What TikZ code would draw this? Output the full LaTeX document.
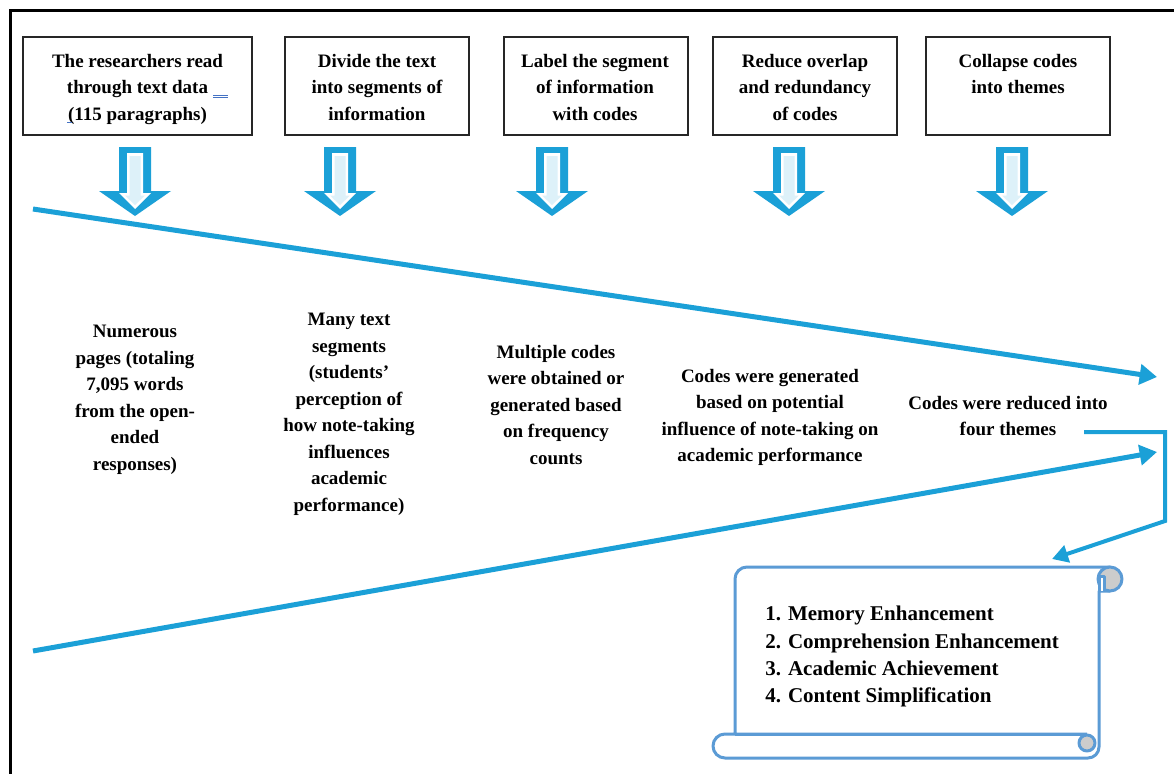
\documentclass[tikz,border=0pt]{standalone}
\usepackage{fontspec}
\setmainfont{Liberation Serif}
\usetikzlibrary{arrows.meta}
\definecolor{arrowblue}{RGB}{27,160,215}
\definecolor{scrollblue}{RGB}{91,155,213}
\definecolor{curlgray}{RGB}{204,204,204}
\definecolor{markblue}{RGB}{68,114,196}
\newcommand\boxfont{\fontsize{14.25pt}{19.875pt}\selectfont\bfseries}
\newcommand\listfont{\fontsize{15.75pt}{20.5pt}\selectfont\bfseries}
\newcommand\blockarrow[1]{%
  \fill[arrowblue] ({#1-16},147) -- ({#1+16},147) -- ({#1+16},191) -- ({#1+36},191) -- (#1,216) -- ({#1-36},191) -- ({#1-16},191) -- cycle;
  \fill[white] ({#1-8},153) -- ({#1+8},153) -- ({#1+8},193) -- ({#1+16},193) -- (#1,209) -- ({#1-16},193) -- ({#1-8},193) -- cycle;
  \fill[arrowblue!15] ({#1-5.5},156) -- ({#1+5.5},156) -- ({#1+5.5},195.5) -- ({#1+10},195.5) -- (#1,205) -- ({#1-10},195.5) -- ({#1-5.5},195.5) -- cycle;
}
\begin{document}
\begin{tikzpicture}[x=0.75pt,y=-0.75pt,
  stepbox/.style={draw=black!85, line width=1.5pt, rectangle, inner sep=0pt, minimum height=73.5pt},
  boxtext/.style={anchor=north, align=center, inner sep=0pt, font=\boxfont, execute at begin node=\strut},
  flowline/.style={draw=arrowblue, line width=3.75pt, -{Triangle[length=13pt,width=15pt]}},
  elbowline/.style={draw=arrowblue, line width=3pt, -{Triangle[length=12pt,width=13pt]}},
  scrollline/.style={draw=scrollblue, line width=2.25pt, line join=round}]
\useasboundingbox (0,0) rectangle (1174,774);
\fill[white] (0,0) rectangle (1174,774);
% frame
\draw[line width=2.25pt] (1180,11) -- (10,11) -- (10,780);

% step boxes
\node[stepbox, minimum width=171.75pt] (b1) at (137.5,86) {};
\node[stepbox, minimum width=138pt] (b2) at (377,86) {};
\node[stepbox, minimum width=138pt] (b3) at (596,86) {};
\node[stepbox, minimum width=138pt] (b4) at (805,86) {};
\node[stepbox, minimum width=138pt] (b5) at (1018,86) {};

\node[boxtext] (t1) at (137.5,54) {The researchers read\\through text data\\(115 paragraphs)};
\node[boxtext] (t2) at (377,54) {Divide the text\\into segments of\\information};
\node[boxtext] (t3) at (595,54) {Label the segment\\of information\\with codes};
\node[boxtext] (t4) at (805,54) {Reduce overlap\\and redundancy\\of codes};
\node[boxtext] (t5) at (1018,54) {Collapse codes\\into themes};

% small blue marks in first box
\draw[markblue, line width=0.6pt] (213,95) -- (228,95) (213,97.5) -- (228,97.5);
\draw[markblue, line width=0.6pt] (67,122) -- (72,122);

% block arrows
\blockarrow{135}
\blockarrow{340}
\blockarrow{552}
\blockarrow{789}
\blockarrow{1012}

% middle texts
\node[boxtext] (c1) at (135,325) {Numerous\\pages (totaling\\7,095 words\\from the open-\\ended\\responses)};
\node[boxtext] (c2) at (349,313) {Many text\\segments\\(students’\\perception of\\how note-taking\\influences\\academic\\performance)};
\node[boxtext] (c3) at (556,345) {Multiple codes\\were obtained or\\generated based\\on frequency\\counts};
\node[boxtext] (c4) at (770,369) {Codes were generated\\based on potential\\influence of note-taking on\\academic performance};
\node[boxtext] (c5) at (1008,396) {Codes were reduced into\\four themes};

% scroll
\draw[scrollline, fill=white] (735,734) -- (735,579) arc[start angle=180, end angle=270, radius=12] -- (1110,567)
   -- (1110,591) -- (1099,591) -- (1099,747) arc[start angle=0, end angle=90, radius=11] -- (725,758)
   arc[start angle=90, end angle=270, radius=12] -- (1087,734);
\filldraw[scrollline, fill=curlgray] (1110,579) circle (12);
\draw[scrollline, fill=white] (1099,591) -- (1099,576) -- (1104,576) -- (1104,591);
\filldraw[scrollline, fill=curlgray] (1087,743) circle (8);
\draw[scrollline] (735,734) -- (1087,734);
\node[anchor=north west, align=left, inner sep=0pt, font=\listfont, execute at begin node=\strut] (list) at (765,606)
  {1. Memory Enhancement\\2. Comprehension Enhancement\\3. Academic Achievement\\4. Content Simplification};

% long connectors
\coordinate (p0) at (33,209);
\coordinate (p1) at (1157,377);
\coordinate (q0) at (33,651);
\coordinate (q1) at (1157,452);
\draw[flowline] (p0) -- (p1);
\draw[flowline] (q0) -- (q1);

% elbow to scroll
\coordinate (e0) at (1084,432);
\coordinate (e1) at (1165,432);
\coordinate (e2) at (1165,521);
\coordinate (e3) at (1052,559);
\draw[elbowline] (e0) -- (e1) -- (e2) -- (e3);
\end{tikzpicture}
\end{document}
